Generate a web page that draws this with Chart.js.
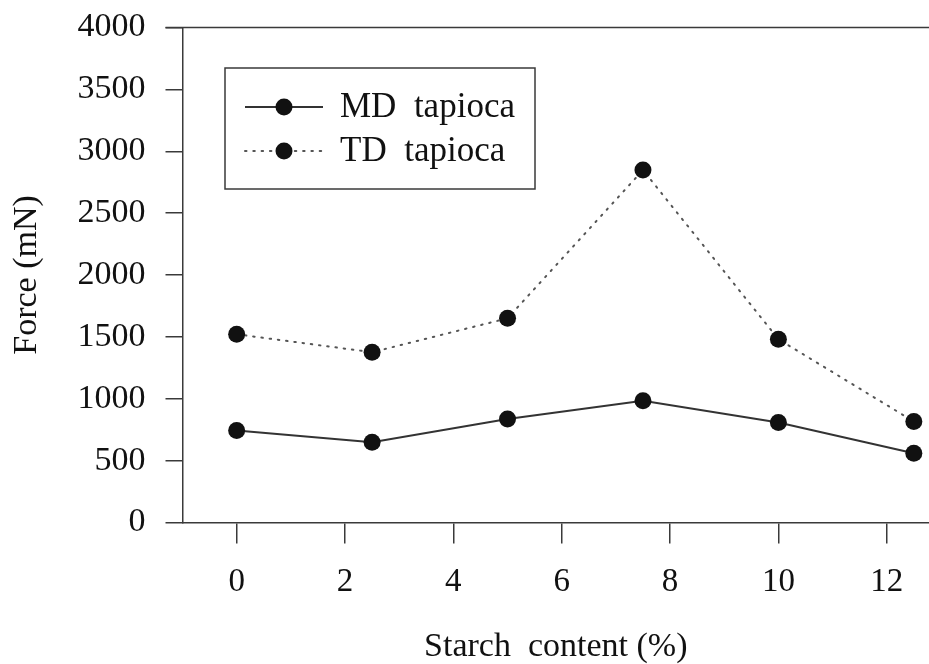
<!DOCTYPE html>
<html>
<head>
<meta charset="utf-8">
<script src="https://cdn.jsdelivr.net/npm/chart.js@4/dist/chart.umd.min.js"></script>
<style>
  html, body { margin: 0; padding: 0; background: #fff; }
  #wrap { width: 929px; height: 664px; }
</style>
</head>
<body>
<div id="wrap"><canvas id="c" width="929" height="664"></canvas></div>
<script>
const starch = [0, 2.5, 5, 7.5, 10, 12.5];
const mdTapioca = [743, 649, 837, 983, 808, 560];
const tdTapioca = [1521, 1376, 1650, 2848, 1481, 816];
const xTickValues = [0, 2, 4, 6, 8, 10, 12];
const yTickValues = [0, 500, 1000, 1500, 2000, 2500, 3000, 3500, 4000];
const seriesLabels = ['MD  tapioca', 'TD  tapioca'];
const xTitle = 'Starch  content (%)';
const yTitle = 'Force (mN)';

const FONT = "'Liberation Serif', 'Times New Roman', serif";
const INK = '#3a3a3a';

const toPts = (ys) => starch.map((x, i) => ({ x: x, y: ys[i] }));

const frameLegend = {
  id: 'frameLegend',
  afterDraw(chart) {
    const ctx = chart.ctx;
    const a = chart.chartArea;
    ctx.save();
    // top border
    ctx.strokeStyle = INK;
    ctx.lineWidth = 1.5;
    ctx.beginPath();
    ctx.moveTo(a.left - 17, a.top);
    ctx.lineTo(chart.width, a.top);
    ctx.stroke();
    // legend box
    const bx = 225, by = 68, bw = 310, bh = 121;
    ctx.strokeRect(bx, by, bw, bh);
    const rows = [107, 151];
    chart.data.datasets.forEach((ds, i) => {
      const y = rows[i];
      ctx.strokeStyle = ds.borderColor;
      ctx.lineWidth = ds.borderWidth;
      ctx.setLineDash(ds.borderDash || []);
      ctx.lineCap = ds.borderCapStyle || 'butt';
      ctx.beginPath();
      ctx.moveTo(245, y);
      ctx.lineTo(323, y);
      ctx.stroke();
      ctx.setLineDash([]);
      ctx.fillStyle = ds.pointBackgroundColor;
      ctx.beginPath();
      ctx.arc(284, y, ds.pointRadius, 0, Math.PI * 2);
      ctx.fill();
      ctx.fillStyle = '#111';
      ctx.font = '35px ' + FONT;
      ctx.textBaseline = 'middle';
      ctx.textAlign = 'left';
      ctx.fillText(ds.label, 340, y + 1);
    });
    ctx.restore();
  }
};

new Chart(document.getElementById('c'), {
  type: 'scatter',
  data: {
    datasets: [
      {
        label: seriesLabels[0],
        data: toPts(mdTapioca),
        showLine: true,
        borderColor: '#333',
        borderWidth: 2,
        pointRadius: 8.5,
        pointBackgroundColor: '#111',
        pointBorderColor: '#111',
        pointBorderWidth: 0,
        tension: 0,
        clip: false
      },
      {
        label: seriesLabels[1],
        data: toPts(tdTapioca),
        showLine: true,
        borderColor: '#555',
        borderWidth: 2,
        borderDash: [1.5, 6.8],
        borderCapStyle: 'round',
        pointRadius: 8.5,
        pointBackgroundColor: '#111',
        pointBorderColor: '#111',
        pointBorderWidth: 0,
        tension: 0,
        clip: false
      }
    ]
  },
  options: {
    responsive: false,
    animation: false,
    layout: { autoPadding: false, padding: { left: 0, right: 0, top: 27.5, bottom: 0 } },
    plugins: { legend: { display: false }, tooltip: { enabled: false } },
    scales: {
      x: {
        type: 'linear',
        min: -1,
        max: 12.78,
        afterBuildTicks(scale) { scale.ticks = xTickValues.map(v => ({ value: v })); },
        afterFit(scale) {
          scale.height = 664 - 522.5;
          scale.paddingLeft = 0; scale.paddingRight = 0; scale.paddingTop = 0; scale.paddingBottom = 0;
        },
        border: { display: true, color: INK, width: 1.5 },
        grid: { display: true, drawOnChartArea: false, drawTicks: true, tickLength: 21, color: INK, lineWidth: 1.5 },
        ticks: { color: '#111', font: { family: FONT, size: 33 }, padding: 19, maxRotation: 0, autoSkip: false,
                 callback: (v) => String(v) },
        title: { display: true, text: xTitle, color: '#111', font: { family: FONT, size: 34, lineHeight: 1.0 }, padding: { top: 0, bottom: 0 } }
      },
      y: {
        type: 'linear',
        min: 0,
        max: 4000,
        afterBuildTicks(scale) { scale.ticks = yTickValues.map(v => ({ value: v })); },
        afterFit(scale) {
          scale.width = 182.5;
          scale.paddingLeft = 0; scale.paddingRight = 0; scale.paddingTop = 0; scale.paddingBottom = 0;
        },
        border: { display: true, color: INK, width: 1.5 },
        grid: { display: true, drawOnChartArea: false, drawTicks: true, tickLength: 17, color: INK, lineWidth: 1.5 },
        ticks: { color: '#111', font: { family: FONT, size: 34 }, padding: 20, autoSkip: false,
                 callback: (v) => String(v) },
        title: { display: true, text: yTitle, color: '#111', font: { family: FONT, size: 34 }, padding: { top: 7, bottom: 0 } }
      }
    }
  },
  plugins: [frameLegend]
});
</script>
</body>
</html>
